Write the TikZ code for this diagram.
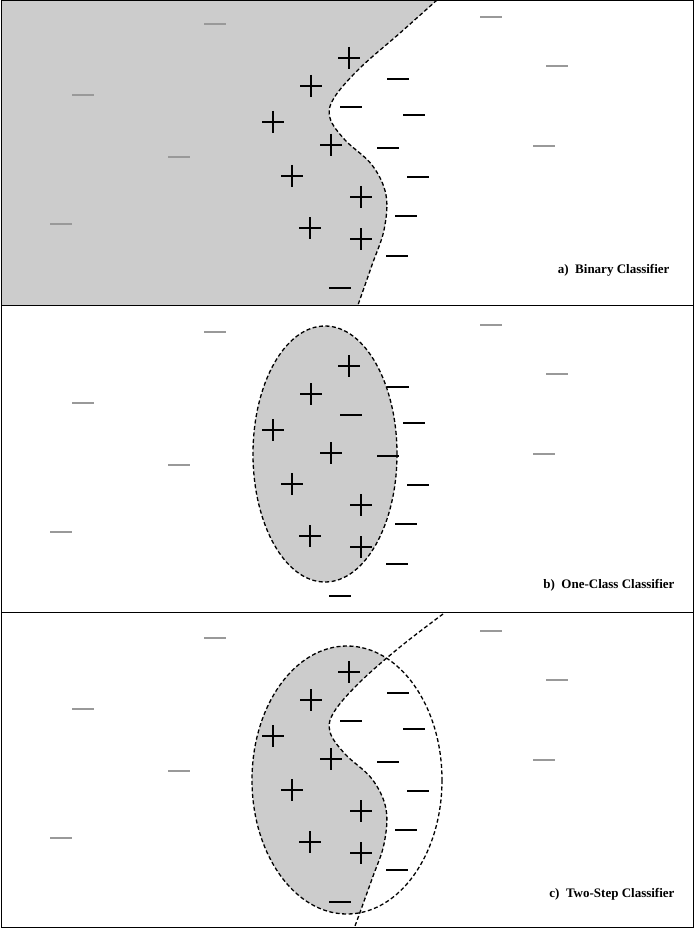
\documentclass[tikz,border=0pt]{standalone}
\usepackage{fontspec}
\setmainfont{Liberation Serif}
\begin{document}
\begin{tikzpicture}[x=1pt,y=-1pt,
  bnd/.style={draw=black,line width=1.3pt,dash pattern=on 4pt off 2.5pt},
  sym/.style={line width=1.6pt},
  gsym/.style={line width=1.6pt,draw=gray!80},
  lbl/.style={anchor=east,font=\bfseries\fontsize{13}{15}\selectfont}]
\useasboundingbox (0,0) rectangle (694,928);
\fill[white] (0,0) rectangle (694,928);
\newcommand\plusm[2]{\draw[sym] (#1-11,#2) -- (#1+11,#2) (#1,#2-11) -- (#1,#2+11);}
\newcommand\minusm[2]{\draw[sym] (#1-11,#2) -- (#1+11,#2);}
\newcommand\gminus[2]{\draw[gsym] (#1-11,#2) -- (#1+11,#2);}
\newcommand\points{%
  \plusm{349}{58}\plusm{311}{86}\plusm{273}{122}\plusm{331}{145}\plusm{292}{176}\plusm{361}{197}\plusm{310}{228}\plusm{361}{239}%
  \minusm{398}{79}\minusm{351}{107}\minusm{414}{115}\minusm{388}{148}\minusm{418}{177}\minusm{406}{216}\minusm{397}{256}\minusm{340}{288}%
  \gminus{215}{24}\gminus{83}{95}\gminus{179}{157}\gminus{61}{224}\gminus{491}{17}\gminus{557}{66}\gminus{544}{146}}
% panel a
\begin{scope}
  \fill[gray!40] (1,0) -- plot[smooth,tension=0.6] coordinates {(437,0) (400,33) (360,68) (334,98) (330,118) (345,140) (372,165) (386,195) (384,230) (372,265) (358,305)} -- (1,305) -- cycle;
  \draw[bnd] plot[smooth,tension=0.6] coordinates {(437,0) (400,33) (360,68) (334,98) (330,118) (345,140) (372,165) (386,195) (384,230) (372,265) (358,305)};
  \points
  \node[lbl] at (673,270) {a)\ \ Binary Classifier};
\end{scope}
% panel b
\begin{scope}[shift={(0,308)}]
  \filldraw[fill=gray!40,bnd] (325,146) ellipse [x radius=72,y radius=128];
  \points
  \node[lbl] at (678,277) {b)\ \ One-Class Classifier};
\end{scope}
% panel c
\begin{scope}[shift={(0,614)}]
  \begin{scope}
    \clip (347,166) ellipse [x radius=95,y radius=134];
    \fill[gray!40] (200,0) -- plot[smooth,tension=0.6] coordinates {(443,0) (400,33) (360,68) (334,98) (330,118) (345,140) (372,165) (386,195) (384,230) (372,265) (355,312)} -- (200,312) -- cycle;
  \end{scope}
  \draw[bnd] (347,166) ellipse [x radius=95,y radius=134];
  \draw[bnd] plot[smooth,tension=0.6] coordinates {(443,0) (400,33) (360,68) (334,98) (330,118) (345,140) (372,165) (386,195) (384,230) (372,265) (355,312)};
  \points
  \node[lbl] at (678,280) {c)\ \ Two-Step Classifier};
\end{scope}
\draw[line width=1pt] (1,1) rectangle (693,927);
\draw[line width=1pt] (1,305) -- (693,305) (1,612) -- (693,612);
\end{tikzpicture}
\end{document}
